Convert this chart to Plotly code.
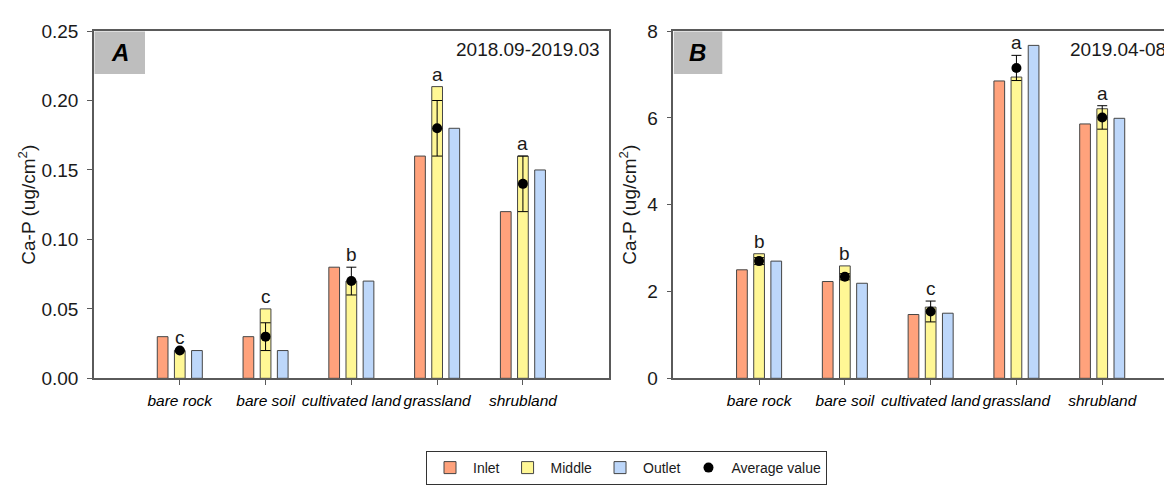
import plotly.graph_objects as go

# ---------------- data ----------------
categories = ["bare rock", "bare soil", "cultivated land", "grassland", "shrubland"]

a_inlet = [0.03, 0.03, 0.08, 0.16, 0.12]
a_middle = [0.02, 0.05, 0.07, 0.21, 0.16]
a_outlet = [0.02, 0.02, 0.07, 0.18, 0.15]
a_avg = [0.02, 0.03, 0.07, 0.18, 0.14]
a_err = [0.0005, 0.01, 0.01, 0.02, 0.02]
a_letters = ["c", "c", "b", "a", "a"]

b_inlet = [2.50, 2.23, 1.47, 6.85, 5.86]
b_middle = [2.87, 2.59, 1.64, 6.94, 6.21]
b_outlet = [2.70, 2.19, 1.50, 7.67, 5.99]
b_avg = [2.70, 2.34, 1.54, 7.15, 6.01]
b_err = [0.08, 0.07, 0.24, 0.29, 0.27]
b_letters = ["b", "b", "c", "a", "a"]

a_ticks = [0, 0.05, 0.10, 0.15, 0.20, 0.25]
b_ticks = [0, 2, 4, 6, 8]

panel_labels = ["A", "B"]
period_labels = ["2018.09-2019.03", "2019.04-08"]
series_names = ["Inlet", "Middle", "Outlet", "Average value"]

# ---------------- style ----------------
W, H = 1164, 485
FONT = "Liberation Sans, Arial, sans-serif"
C_IN, C_MID, C_OUT = "#FFA27C", "#FFF795", "#BDD7FA"
EDGE = "#454545"
AXC = "#5a5a5a"
TXT = "#1a1a1a"


def px_x(p):
    return p / W


def px_y(p):
    return (H - p) / H


xa_dom = [px_x(94), px_x(608.7)]
xb_dom = [px_x(673.3), 1.0]
y_dom = [px_y(385), px_y(22)]
unit_px = (608.7 - 94) / 6.0
xb_range = [-1, -1 + (W - 673.3) / unit_px]

fig = go.Figure()

panels = [
    ("x", "y", a_inlet, a_middle, a_outlet, a_avg, a_err, a_letters, True),
    ("x2", "y2", b_inlet, b_middle, b_outlet, b_avg, b_err, b_letters, False),
]

xidx = list(range(len(categories)))

for xr, yr, inl, mid, outl, avg, err, letters, show in panels:
    for name, vals, col in [(series_names[0], inl, C_IN), (series_names[1], mid, C_MID), (series_names[2], outl, C_OUT)]:
        fig.add_trace(go.Bar(
            x=xidx, y=vals, name=name, xaxis=xr, yaxis=yr,
            marker=dict(color=col, line=dict(color=EDGE, width=1)),
            showlegend=show, legendgroup=name,
        ))
    fig.add_trace(go.Scatter(
        x=xidx, y=avg, name=series_names[3], mode="markers", xaxis=xr, yaxis=yr,
        marker=dict(color="black", size=10),
        error_y=dict(type="data", array=err, color="black", thickness=1, width=5),
        showlegend=show, legendgroup="avg",
    ))
    for i, lt in enumerate(letters):
        top = max(mid[i], avg[i] + err[i])
        fig.add_annotation(
            x=xidx[i], y=top, xref=xr, yref=yr, text=lt, showarrow=False,
            yanchor="bottom", yshift=0,
            font=dict(family=FONT, size=19, color=TXT),
        )

# panel label boxes and period text
box_specs = [(94, 145, xa_dom[1] - px_x(7), "right"), (673.3, 722.3, px_x(1068), "left")]
for (bx0, bx1, tx, anchor), plab, per in zip(box_specs, panel_labels, period_labels):
    fig.add_shape(type="rect", xref="paper", yref="paper",
                  x0=px_x(bx0 + 0.5), x1=px_x(bx1), y0=px_y(67), y1=px_y(22.5),
                  fillcolor="#BEBEBE", line=dict(width=0), layer="below")
    fig.add_annotation(xref="paper", yref="paper", x=px_x((bx0 + bx1) / 2), y=px_y(44.5),
                       text=f"<b><i>{plab}</i></b>", showarrow=False,
                       xanchor="center", yanchor="middle",
                       font=dict(family=FONT, size=24, color="black"))
    fig.add_annotation(xref="paper", yref="paper", x=tx, y=px_y(41),
                       text=per, showarrow=False, xanchor=anchor, yanchor="middle",
                       font=dict(family=FONT, size=19, color=TXT))

common_x = dict(
    tickmode="array", tickvals=xidx, ticktext=categories, tickangle=0,
    tickfont=dict(family=FONT, size=15.5, color="#000000", style="italic"),
    ticks="outside", ticklen=5, tickcolor=AXC, tickwidth=1, ticklabelstandoff=2,
    showline=True, linecolor=AXC, linewidth=1.5, mirror=True,
    showgrid=False, zeroline=False, fixedrange=True,
)
common_y = dict(
    ticks="outside", ticklen=5, tickcolor=AXC, tickwidth=1,
    tickfont=dict(family=FONT, size=19, color=TXT), ticklabelstandoff=5,
    showline=True, linecolor=AXC, linewidth=1.5,
    showgrid=False, zeroline=False,
)

fig.update_layout(
    width=W, height=H,
    margin=dict(l=0, r=0, t=0, b=0),
    paper_bgcolor="white", plot_bgcolor="white",
    barmode="group", bargap=0.4, bargroupgap=0.375,
    font=dict(family=FONT, color=TXT),
    xaxis=dict(domain=xa_dom, range=[-1, 5], anchor="y", **common_x),
    xaxis2=dict(domain=xb_dom, range=xb_range, anchor="y2", **common_x),
    yaxis=dict(domain=y_dom, range=[0, 0.25], anchor="x", tickvals=a_ticks,
               tickformat=".2f", mirror=True,
               title=dict(text="Ca-P (ug/cm<sup>2</sup>)", standoff=1,
                          font=dict(family=FONT, size=19, color=TXT)),
               **common_y),
    yaxis2=dict(domain=y_dom, range=[0, 8], anchor="x2", tickvals=b_ticks,
                mirror=False,
                title=dict(text="Ca-P (ug/cm<sup>2</sup>)", standoff=6,
                           font=dict(family=FONT, size=19, color=TXT)),
                **common_y),
    legend=dict(
        orientation="h", x=px_x(426), y=px_y(461), xanchor="left", yanchor="top",
        bordercolor="#333333", borderwidth=1, bgcolor="white",
        font=dict(family=FONT, size=14, color=TXT), itemwidth=36,
        traceorder="normal",
    ),
)

fig.write_html("out.html")
